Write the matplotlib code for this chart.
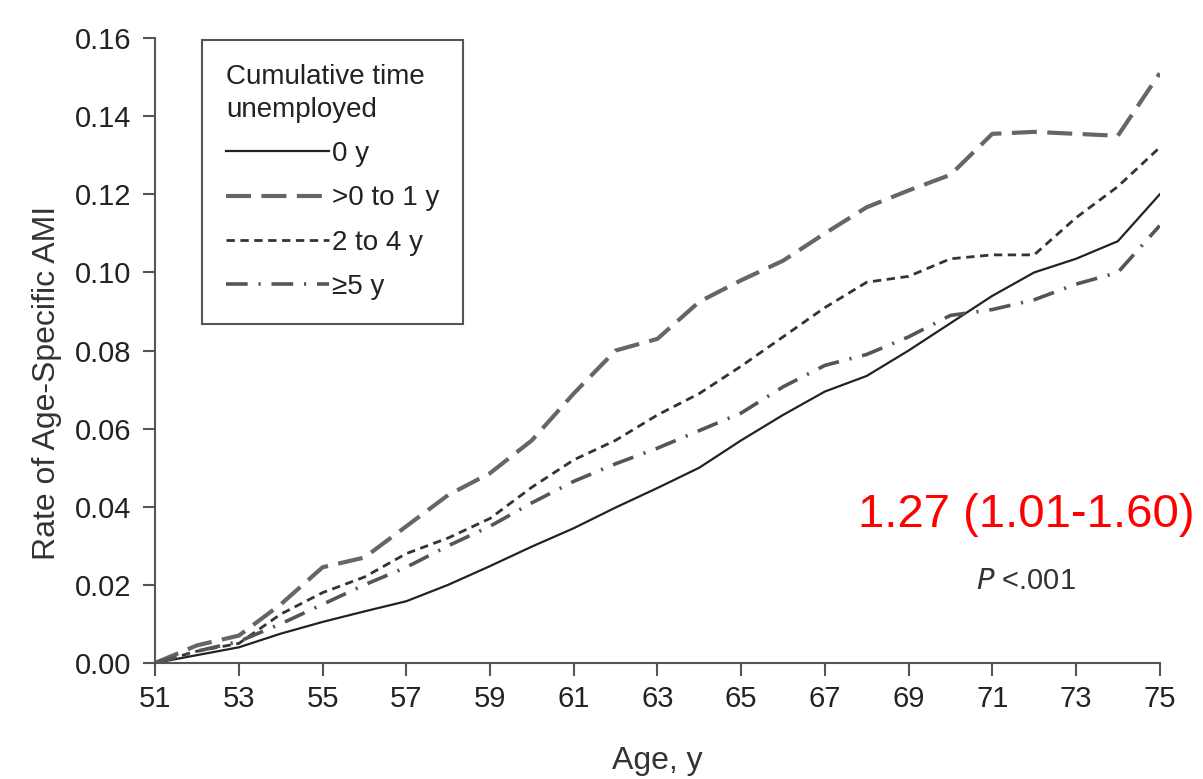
import matplotlib.pyplot as plt
import numpy as np

plt.rcParams['font.family'] = ['Liberation Sans', 'DejaVu Sans']

# Age, years
age = list(range(51, 76))

# Rate of age-specific AMI by cumulative time unemployed
rate_0y = [0.000, 0.002, 0.004, 0.0075, 0.0105, 0.0132, 0.0158, 0.020, 0.0248, 0.0298,
           0.0345, 0.0398, 0.0448, 0.050, 0.057, 0.0635, 0.0695, 0.0735, 0.080, 0.087,
           0.094, 0.100, 0.1035, 0.108, 0.120]
rate_0to1 = [0.000, 0.0045, 0.007, 0.015, 0.0245, 0.027, 0.035, 0.043, 0.0486, 0.057,
             0.069, 0.080, 0.083, 0.0925, 0.098, 0.103, 0.110, 0.1167, 0.121, 0.125,
             0.1355, 0.136, 0.1355, 0.135, 0.151]
rate_2to4 = [0.000, 0.003, 0.005, 0.0125, 0.018, 0.022, 0.028, 0.032, 0.037, 0.045,
             0.052, 0.057, 0.0635, 0.069, 0.076, 0.0835, 0.091, 0.0975, 0.099, 0.1035,
             0.1045, 0.1045, 0.114, 0.122, 0.132]
rate_5plus = [0.000, 0.003, 0.0055, 0.010, 0.015, 0.020, 0.0245, 0.030, 0.035, 0.041,
              0.0465, 0.051, 0.055, 0.0595, 0.064, 0.0707, 0.0762, 0.079, 0.0835, 0.089,
              0.0905, 0.093, 0.097, 0.100, 0.112]

labels = ['0 y', '>0 to 1 y', '2 to 4 y', '\u22655 y']

fig = plt.figure(figsize=(12.03, 7.79), dpi=100)
ax = fig.add_axes([0.129, 0.149, 0.835, 0.802])

ax.plot(age, rate_0y, color='#222222', lw=1.6, label=labels[0])
ax.plot(age, rate_0to1, color='#666666', lw=3.0, dashes=(6, 2.5), label=labels[1])
ax.plot(age, rate_2to4, color='#333333', lw=2.0, dashes=(3, 2), label=labels[2])
ax.plot(age, rate_5plus, color='#555555', lw=2.6, dashes=(6, 3, 0.6, 3), label=labels[3])

ax.set_xlim(51, 75)
ax.set_ylim(0, 0.16)
ax.set_xticks(range(51, 76, 2))
ax.set_yticks(np.arange(0, 0.161, 0.02))
ax.yaxis.set_major_formatter(plt.FormatStrFormatter('%.2f'))

for s in ['top', 'right']:
    ax.spines[s].set_visible(False)
for s in ['left', 'bottom']:
    ax.spines[s].set_color('#555555')
    ax.spines[s].set_linewidth(1.5)
ax.tick_params(axis='both', colors='#555555', width=1.5, length=9, labelsize=21,
               labelcolor='#222222')
ax.tick_params(axis='x', pad=7)
ax.tick_params(axis='y', pad=8)

ax.set_xlabel('Age, y', fontsize=23, color='#333333', labelpad=24)
ax.set_ylabel('Rate of Age-Specific AMI', fontsize=23, color='#333333')
ax.yaxis.set_label_coords(-0.093, 0.448)

leg = ax.legend(title='Cumulative time\nunemployed', loc='upper left',
                bbox_to_anchor=(0.047, 0.997), borderaxespad=0, fontsize=20,
                title_fontsize=20, handlelength=3.7, handletextpad=0.12,
                fancybox=False, edgecolor='#555555', framealpha=1, borderpad=0.85,
                labelspacing=0.66, alignment='left')
leg.get_frame().set_linewidth(1.5)
for t in leg.get_texts():
    t.set_color('#222222')
leg.get_title().set_color('#222222')
leg.get_title().set_linespacing(1.35)

ax.text(67.8, 0.038, '1.27 (1.01-1.60)', color='red', fontsize=34,
        va='center', ha='left', clip_on=False)
ax.text(70.6, 0.021, r'$\it{P}$ <.001', color='#333333', fontsize=21,
        va='center', ha='left')

fig.savefig('out.png', dpi=100)
